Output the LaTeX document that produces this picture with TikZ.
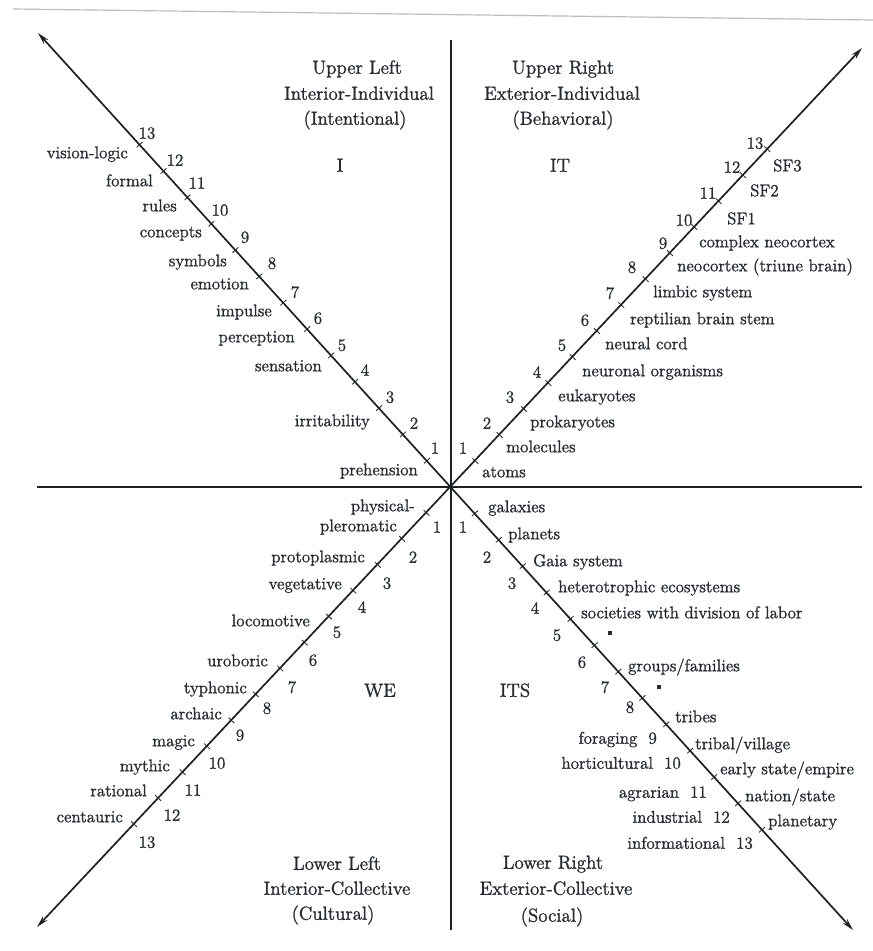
\documentclass[tikz,border=0pt]{standalone}
\usepackage{fontspec}
\setmainfont{lmroman12-regular.otf}[RawFeature={embolden=1.2}]
\usetikzlibrary{arrows.meta,calc}
\definecolor{ink}{HTML}{262B33}
\definecolor{lineink}{HTML}{1E2126}
\begin{document}
\begin{tikzpicture}[x=1pt,y=-1pt,
  lbl/.style={inner sep=0pt, text height=8.5pt, text depth=0pt, font=\fontsize{17}{20}\selectfont, text=ink},
  num/.style={inner sep=0pt, text height=11.5pt, text depth=0pt, font=\fontsize{17}{20}\selectfont, text=ink},
  ttl/.style={inner sep=0pt, text height=13.5pt, text depth=0pt, font=\fontsize{19}{24}\selectfont, text=ink},
  axis/.style={line width=1.7pt, draw=lineink},
  diag/.style={line width=1.7pt, draw=lineink, {Stealth[length=12pt,width=6pt]}-{Stealth[length=12pt,width=6pt]}},
  tickmark/.style={line width=0.8pt, draw=lineink},
  dotmark/.style={fill=ink, inner sep=0pt, minimum size=3.5pt}
]
\useasboundingbox (0,0) rectangle (873,951);
\fill[white] (0,0) rectangle (873,951);
\draw[gray!50, line width=1.2pt] (13,9) -- (873,20);

% frame of the quadrants
\coordinate (C) at (451,487);
\coordinate (vtop) at (451,40);
\coordinate (vbot) at (451,930);
\coordinate (hleft) at (37,487);
\coordinate (hright) at (862,487);
\coordinate (ULtip) at (38,33);
\coordinate (URtip) at (862,48);
\coordinate (LLtip) at (37,927);
\coordinate (LRtip) at (853,930);

\draw[axis] (vtop) -- (vbot);
\draw[axis] (hleft) -- (hright);
\draw[diag] (ULtip) -- (LRtip);
\draw[diag] (LLtip) -- (URtip);

\foreach \k in {1,...,13}{
  \pgfmathsetmacro\dd{\k*35.6}
  \coordinate (ul\k) at ($(C)!\dd pt!(ULtip)$);
  \coordinate (ur\k) at ($(C)!\dd pt!(URtip)$);
  \coordinate (ll\k) at ($(C)!\dd pt!(LLtip)$);
  \coordinate (lr\k) at ($(C)!\dd pt!(LRtip)$);
  \draw[tickmark] ($(ul\k)!4pt!90:(C)$) -- ($(ul\k)!4pt!-90:(C)$);
  \draw[tickmark] ($(ur\k)!4pt!90:(C)$) -- ($(ur\k)!4pt!-90:(C)$);
  \draw[tickmark] ($(ll\k)!4pt!90:(C)$) -- ($(ll\k)!4pt!-90:(C)$);
  \draw[tickmark] ($(lr\k)!4pt!90:(C)$) -- ($(lr\k)!4pt!-90:(C)$);
}

% quadrant titles
\node[ttl] (ult1) at (357,67) {Upper Left};
\node[ttl] (ult2) at (359,93) {Interior-Individual};
\node[ttl] (ult3) at (355,118) {(Intentional)};
\node[ttl] (ulq) at (340,165) {I};
\node[ttl] (urt1) at (563,67) {Upper Right};
\node[ttl] (urt2) at (562,93) {Exterior-Individual};
\node[ttl] (urt3) at (563,118) {(Behavioral)};
\node[ttl] (urq) at (560,165) {IT};
\node[ttl] (llt1) at (337,863) {Lower Left};
\node[ttl] (llt2) at (337,888) {Interior-Collective};
\node[ttl] (llt3) at (333,913) {(Cultural)};
\node[ttl] (llq) at (380,690) {WE};
\node[ttl] (lrt1) at (553,862) {Lower Right};
\node[ttl] (lrt2) at (556,888) {Exterior-Collective};
\node[ttl] (lrt3) at (552,915) {(Social)};
\node[ttl] (lrq) at (515,690) {ITS};

% upper left numbers
\foreach \n/\x/\y in {1/435/448,2/414/423,3/390/397,4/365/370,5/342/345,6/318/318,7/295/292,8/272/263,9/245/237,10/220/210,11/197/183,12/175/160,13/147/133}
  \node[num] (uln\n) at (\x,\y) {\n};
% upper left words
\node[lbl,anchor=east] (ulw1) at (418,471) {prehension};
\node[lbl,anchor=east] (ulw2) at (370,422) {irritability};
\node[lbl,anchor=east] (ulw3) at (322,367) {sensation};
\node[lbl,anchor=east] (ulw4) at (295,338) {perception};
\node[lbl,anchor=east] (ulw5) at (272,312) {impulse};
\node[lbl,anchor=east] (ulw6) at (249,285) {emotion};
\node[lbl,anchor=east] (ulw7) at (227,262) {symbols};
\node[lbl,anchor=east] (ulw8) at (202,233) {concepts};
\node[lbl,anchor=east] (ulw9) at (177,207) {rules};
\node[lbl,anchor=east] (ulw10) at (153,182) {formal};
\node[lbl,anchor=east] (ulw11) at (128,154) {vision-logic};

% upper right numbers
\foreach \n/\x/\y in {1/463/448,2/487/423,3/510/397,4/537/372,5/562/345,6/585/320,7/610/293,8/632/267,9/663/243,10/684/220,11/708/193,12/732/167,13/755/143}
  \node[num] (urn\n) at (\x,\y) {\n};
% upper right words
\node[lbl,anchor=west] (urw1) at (482,473) {atoms};
\node[lbl,anchor=west] (urw2) at (506,448) {molecules};
\node[lbl,anchor=west] (urw3) at (530,423) {prokaryotes};
\node[lbl,anchor=west] (urw4) at (558,397) {eukaryotes};
\node[lbl,anchor=west] (urw5) at (582,372) {neuronal organisms};
\node[lbl,anchor=west] (urw6) at (605,345) {neural cord};
\node[lbl,anchor=west] (urw7) at (630,320) {reptilian brain stem};
\node[lbl,anchor=west] (urw8) at (653,293) {limbic system};
\node[lbl,anchor=west] (urw9) at (677,267) {neocortex (triune brain)};
\node[lbl,anchor=west] (urw10) at (699,243) {complex neocortex};
\node[lbl,anchor=west] (urw11) at (727,220) {SF1};
\node[lbl,anchor=west] (urw12) at (750,192) {SF2};
\node[lbl,anchor=west] (urw13) at (773,167) {SF3};

% lower left numbers
\foreach \n/\x/\y in {1/437/527,2/413/557,3/387/583,4/362/607,5/337/632,6/313/660,7/292/687,8/267/708,9/240/735,10/217/763,11/193/790,12/172/815,13/147/842}
  \node[num] (lln\n) at (\x,\y) {\n};
% lower left words
\node[lbl,anchor=east] (llw1a) at (415,507) {physical-};
\node[lbl,anchor=east] (llw1b) at (397,527) {pleromatic};
\node[lbl,anchor=east] (llw2) at (365,558) {protoplasmic};
\node[lbl,anchor=east] (llw3) at (342,585) {vegetative};
\node[lbl,anchor=east] (llw4) at (310,622) {locomotive};
\node[lbl,anchor=east] (llw5) at (268,662) {uroboric};
\node[lbl,anchor=east] (llw6) at (247,689) {typhonic};
\node[lbl,anchor=east] (llw7) at (222,715) {archaic};
\node[lbl,anchor=east] (llw8) at (195,742) {magic};
\node[lbl,anchor=east] (llw9) at (170,767) {mythic};
\node[lbl,anchor=east] (llw10) at (147,792) {rational};
\node[lbl,anchor=east] (llw11) at (123,818) {centauric};

% lower right numbers
\foreach \n/\x/\y in {1/463/527,2/487/557,3/512/583,4/535/608,5/557/635,6/582/662,7/605/687,8/630/707}
  \node[num] (lrn\n) at (\x,\y) {\n};
\node[num,anchor=east] (lrn9) at (657,738) {foraging\ \ 9};
\node[num,anchor=east] (lrn10) at (681,763) {horticultural\ \ 10};
\node[num,anchor=east] (lrn11) at (707,792) {agrarian\ \ 11};
\node[num,anchor=east] (lrn12) at (730,817) {industrial\ \ 12};
\node[num,anchor=east] (lrn13) at (753,843) {informational\ \ 13};
% lower right words
\node[lbl,anchor=west] (lrw1) at (488,508) {galaxies};
\node[lbl,anchor=west] (lrw2) at (508,535) {planets};
\node[lbl,anchor=west] (lrw3) at (533,562) {Gaia system};
\node[lbl,anchor=west] (lrw4) at (558,588) {heterotrophic ecosystems};
\node[lbl,anchor=west] (lrw5) at (581,614) {societies with division of labor};
\node[dotmark] (lrd6) at (610,633) {};
\node[lbl,anchor=west] (lrw7) at (628,667) {groups/families};
\node[dotmark] (lrd8) at (659,687) {};
\node[lbl,anchor=west] (lrw9) at (675,718) {tribes};
\node[lbl,anchor=west] (lrw10) at (695,745) {tribal/village};
\node[lbl,anchor=west] (lrw11) at (720,770) {early state/empire};
\node[lbl,anchor=west] (lrw12) at (745,797) {nation/state};
\node[lbl,anchor=west] (lrw13) at (768,822) {planetary};
\end{tikzpicture}
\end{document}
